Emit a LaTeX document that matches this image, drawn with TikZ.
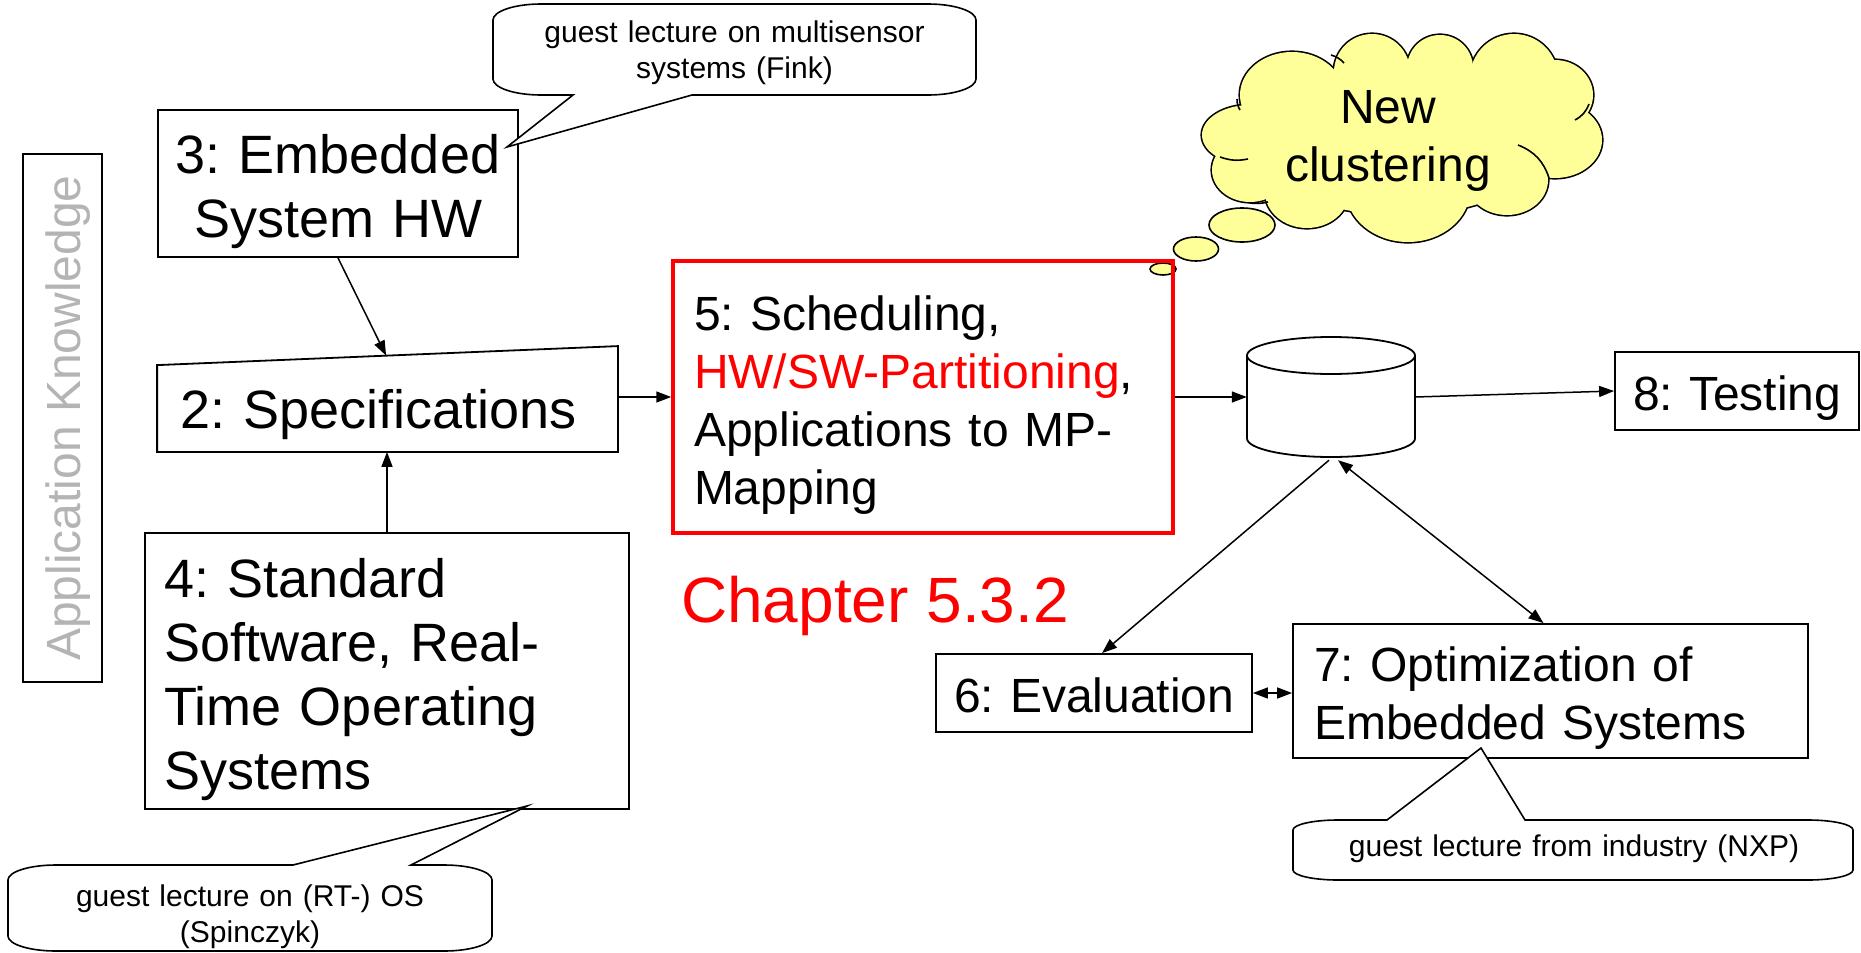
\documentclass[tikz,border=0pt]{standalone}
\usepackage{fontspec}
\setmainfont{Liberation Sans}
\usetikzlibrary{arrows.meta,calc}
\definecolor{cloudyellow}{HTML}{FFFF99}
\definecolor{pptred}{HTML}{FF0000}
\definecolor{softgray}{HTML}{B4B4B4}
\frenchspacing
\hyphenpenalty=10000
\begin{document}
\begin{tikzpicture}[x=1pt,y=-1pt,
  bigtext/.style={font=\fontsize{54}{64}\selectfont},
  midtext/.style={font=\fontsize{48}{58}\selectfont},
  smalltext/.style={font=\fontsize{30}{36.5}\selectfont},
  stagebox/.style={draw, line width=1.8pt, inner ysep=0pt, align=left},
  arr/.style={line width=1.5pt, -{Triangle[length=15pt,width=11pt]}},
  darr/.style={line width=1.5pt, {Triangle[length=15pt,width=11pt]}-{Triangle[length=15pt,width=11pt]}},
  callout/.style={draw, line width=1.6pt, fill=white, line join=miter},
  notetext/.style={smalltext, align=center, anchor=base, inner sep=0pt},
  bubble/.style={draw, line width=1.6pt, fill=cloudyellow},
  puffline/.style={line width=1.6pt},
]
\useasboundingbox (0,0) rectangle (1861,953);

% ---------- thought cloud ----------
\def\cloudparts{1250/135/48/30, 1292/95/52/43, 1372/72/38/38, 1440/68/33/33,
  1514/78/44/44, 1555/95/38/35, 1555/140/47/38, 1507/180/41/35,
  1408/190/62/52, 1307/192/42/36, 1250/170/38/32, 1400/140/150/75}
\foreach \cx/\cy/\rx/\ry in \cloudparts
  \draw[line width=3.2pt] (\cx,\cy) ellipse[x radius=\rx, y radius=\ry];
\foreach \cx/\cy/\rx/\ry in \cloudparts
  \fill[cloudyellow] (\cx,\cy) ellipse[x radius=\rx, y radius=\ry];
% inner puff strokes
\draw[puffline] (1518,145) to[bend left=25] (1549,178);
\draw[puffline] (1220,157) to[bend right=15] (1248,159);
\draw[puffline] (1268,202) to[bend left=10] (1250,203);
\draw[puffline] (1575,120) to[bend right=20] (1589,104);
\draw[puffline] (1331,55) to[bend left=15] (1344,63);
\draw[puffline] (1240,110) to[bend left=15] (1237,99);
\draw[bubble] (1242,225) ellipse[x radius=33, y radius=17];
\draw[bubble] (1196,249) ellipse[x radius=22.5, y radius=12];
\draw[bubble] (1163,269) ellipse[x radius=13, y radius=6];
\node[midtext, text width=280pt, align=center, anchor=base, inner sep=0pt] (idea)
  at (1388,123) {New\\clustering};

% ---------- side label ----------
\node[draw, line width=1.5pt, rotate=90, minimum width=528pt, minimum height=79pt,
  inner sep=0pt, text=softgray, font=\fontsize{48}{58}\selectfont,
  text height=35pt, text depth=0pt] (appk) at (62.5,418) {Application Knowledge};

% ---------- design steps ----------
\node[stagebox, bigtext, align=center, minimum width=360pt, minimum height=147pt,
  text width=340pt, inner xsep=10pt, text height=0pt, text depth=21pt] (b3)
  at (338,183.5) {3: Embedded\\System HW};

\node[stagebox, draw=none, bigtext, minimum width=459pt, minimum height=104pt,
  text width=415pt, inner xsep=22pt, text height=58pt, text depth=0pt] (b2)
  at (387.5,399) {\mbox{2: Specifications}};
\coordinate (b2tl) at ($(b2.north west)+(0,19)$);
\draw[line width=1.8pt] (b2.south west) -- (b2.south east) -- (b2.north east)
  -- (b2tl) -- cycle;

\node[stagebox, bigtext, minimum width=484pt, minimum height=276pt,
  text width=446pt, inner xsep=19pt, text height=0pt, text depth=148pt] (b4)
  at (387,671) {4: Standard\\Software, Real-\\Time Operating\\Systems};

\node[stagebox, draw=pptred, line width=3.5pt, midtext, minimum width=500pt,
  minimum height=272pt, text width=458pt, inner xsep=21pt, text height=0pt,
  text depth=134pt] (b5) at (923,397)
  {5: Scheduling,\\\textcolor{pptred}{HW/SW-Partitioning},\\Applications to MP-\\Mapping};

\node[stagebox, midtext, minimum width=316pt, minimum height=78pt,
  text width=280pt, inner xsep=18pt, text height=38pt, text depth=0pt] (b6)
  at (1094,693) {\mbox{6: Evaluation}};

\node[stagebox, midtext, minimum width=515pt, minimum height=134pt,
  text width=473pt, inner xsep=21pt, text height=0pt, text depth=20pt] (b7)
  at (1550.5,691) {7: Optimization of\\Embedded Systems};

\node[stagebox, midtext, minimum width=244pt, minimum height=78pt,
  text width=214pt, inner xsep=15pt, text height=38pt, text depth=0pt] (b8)
  at (1737,391) {\mbox{\hspace*{3pt}8: Testing}};

% ---------- database ----------
\node[minimum width=168pt, minimum height=120pt, inner sep=0pt] (db) at (1331,397) {};
\draw[line width=1.8pt, fill=white] (1247,355.5) -- (1247,438.5)
  arc[start angle=180, end angle=0, x radius=84, y radius=18.5] -- (1415,355.5);
\draw[line width=1.8pt, fill=white] (1331,355.5) ellipse[x radius=84, y radius=18.5];

\node[anchor=base west, inner sep=0pt, text=pptred, font=\fontsize{64}{76}\selectfont]
  (chap) at (681,622) {Chapter 5.3.2};

% ---------- connectors ----------
\draw[arr] (b3.south) -- ($(b2tl)!0.497!(b2.north east)$);
\draw[arr] (b4.north) -- (b4.north |- b2.south);
\draw[arr] (b2.east |- b5.west) -- (b5.west);
\draw[arr] (b5.east) -- (db.west);
\draw[arr] (db.east) -- (b8.west);
\draw[arr] ($(db.south)+(-2,3)$) -- ($(b6.north)+(8,0)$);
\draw[darr] ($(db.south)+(7,3)$) -- ($(b7.north)+(-7,0)$);
\draw[darr] (b6.east) -- (b6.east -| b7.west);

% ---------- guest lecture callouts ----------
\draw[callout] (541,4) -- (928,4) .. controls (954.5,4) and (976,11.2) .. (976,20)
  -- (976,79) .. controls (976,87.8) and (954.5,95) .. (928,95)
  -- (692,95) -- (507,147) -- (573,95)
  -- (541,95) .. controls (514.5,95) and (493,87.8) .. (493,79)
  -- (493,20) .. controls (493,11.2) and (514.5,4) .. (541,4) -- cycle;
\node[notetext, text width=440pt] (fink) at (734.5,42)
  {guest lecture on multisensor\\systems (Fink)};

\draw[callout] (56,865) -- (293,865) -- (527,806) -- (411,865)
  -- (444,865) .. controls (470.5,865) and (492,871.7) .. (492,880)
  -- (492,936) .. controls (492,944.3) and (470.5,951) .. (444,951)
  -- (56,951) .. controls (29.5,951) and (8,944.3) .. (8,936)
  -- (8,880) .. controls (8,871.7) and (29.5,865) .. (56,865) -- cycle;
\node[notetext, text width=440pt] (spin) at (250,906)
  {guest lecture on (RT-) OS\\(Spinczyk)};

\draw[callout] (1338,820) -- (1387,820) -- (1481,748) -- (1525,820)
  -- (1808,820) .. controls (1832.8,820) and (1853,824.5) .. (1853,830)
  -- (1853,870) .. controls (1853,875.5) and (1832.8,880) .. (1808,880)
  -- (1338,880) .. controls (1313.2,880) and (1293,875.5) .. (1293,870)
  -- (1293,830) .. controls (1293,824.5) and (1313.2,820) .. (1338,820) -- cycle;
\node[notetext, text width=540pt] (nxp) at (1574,856)
  {guest lecture from industry (NXP)};
\end{tikzpicture}
\end{document}
